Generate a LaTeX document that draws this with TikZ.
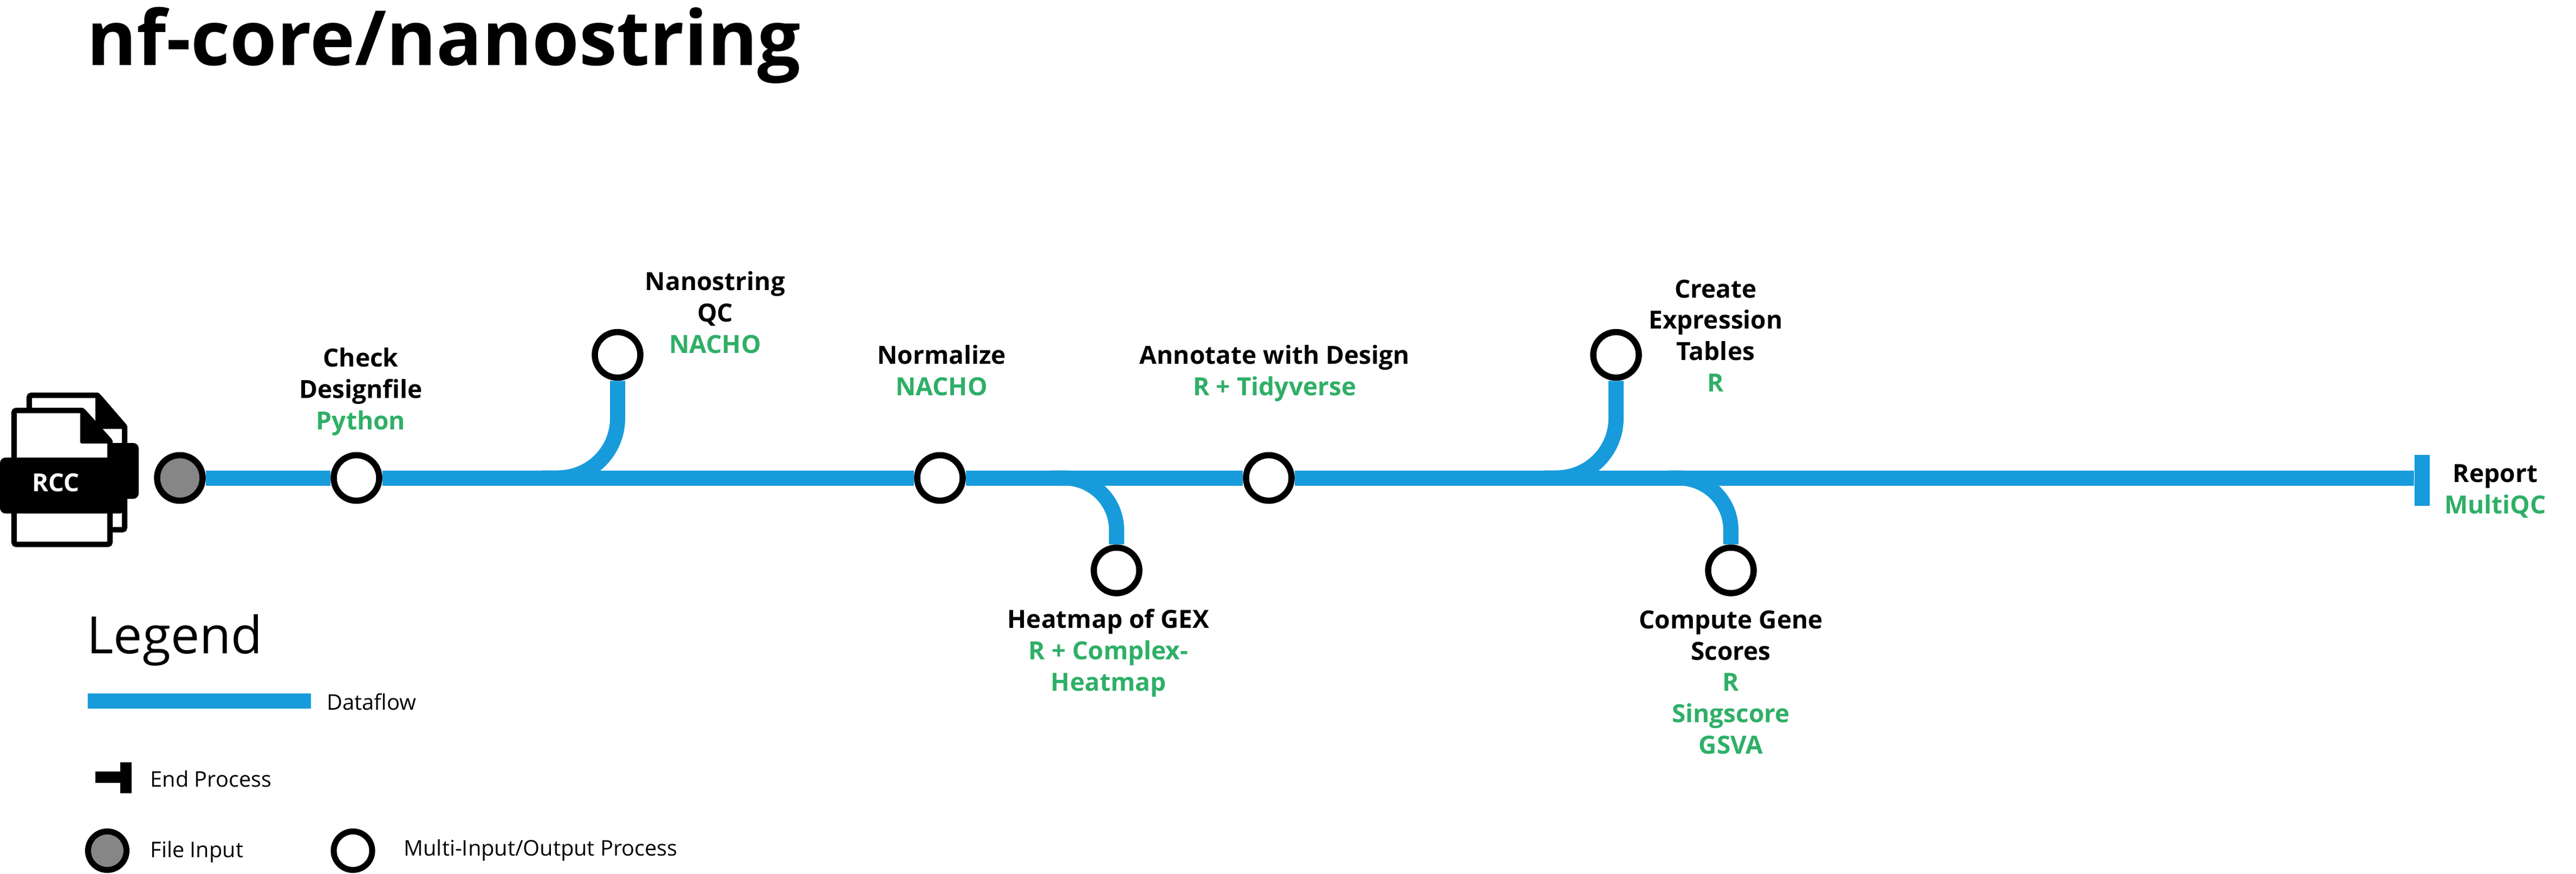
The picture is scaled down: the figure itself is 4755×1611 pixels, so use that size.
\documentclass[tikz,border=0pt]{standalone}
\usepackage{fontspec}
\setmainfont{Open Sans}
\definecolor{flowblue}{HTML}{189BDB}
\definecolor{toolgreen}{HTML}{2FAF67}
\definecolor{inputgray}{HTML}{868686}
\tikzset{
	flow/.style={draw=flowblue, line width=0.28cm},
	station/.style={circle, draw=black, fill=white, line width=0.115cm, minimum size=0.84cm, inner sep=0pt},
	keystation/.style={station, line width=0.11cm, minimum size=0.71cm},
	steplabel/.style={anchor=base, align=center, inner sep=0pt, font=\fontsize{13.1}{16.36}\selectfont\bfseries},
	keylabel/.style={anchor=base west, inner sep=0pt, font=\fontsize{11.3}{13}\selectfont}
}
\newcommand{\toolname}[1]{\textcolor{toolgreen}{#1}}

\begin{document}
\begin{tikzpicture}[x=0.01cm, y=-0.01cm]

	\useasboundingbox (0, 0) rectangle (4755, 1611);

	\def\ymain{881.5} % Hauteur de la ligne principale
	\def\yup{654.5} % Stations du haut
	\def\ylow{1052} % Stations du bas

	% Stations
	\node[station, fill=inputgray] (input) at (332, \ymain) {};
	\foreach \name/\x/\y in {check/658/\ymain, qc/1140/\yup, norm/1735/\ymain, heat/2061/\ylow, annot/2342/\ymain, tables/2983/\yup, scores/3195/\ylow} {
		\node[station] (\name) at (\x, \y) {};
	}
	\node[fill=flowblue, minimum width=0.28cm, minimum height=0.94cm, inner sep=0pt] (stop) at (4471, 886) {};

	% Ligne principale
	\coordinate (stopin) at (stop.west |- input);
	\draw[flow] (input) -- (check) -- (norm) -- (annot) -- (stopin);

	% Branches
	\coordinate (qcend) at (1000, \ymain);
	\coordinate (heatend) at (1940, \ymain);
	\coordinate (tablesend) at (2850, \ymain);
	\coordinate (scoresend) at (3080, \ymain);
	\draw[flow, rounded corners=1.1cm] (qc.south) |- (qcend);
	\draw[flow, rounded corners=0.96cm] (heat.north) |- (heatend);
	\draw[flow, rounded corners=1.1cm] (tables.south) |- (tablesend);
	\draw[flow, rounded corners=0.96cm] (scores.north) |- (scoresend);

	% Fichiers RCC
	\draw[line width=0.1cm, fill=white, rounded corners=0.04cm] (54, 729) -- (180, 729) -- (230, 787) -- (230, 977) -- (54, 977) -- cycle;
	\fill[rounded corners=0.02cm] (176, 724) -- (182, 724) -- (235, 785) -- (235, 791) -- (176, 791) -- cycle;
	\draw[line width=0.1cm, fill=white, rounded corners=0.04cm] (26, 757) -- (152, 757) -- (203, 814) -- (203, 1004) -- (26, 1004) -- cycle;
	\fill[rounded corners=0.03cm] (148, 752) -- (154, 752) -- (208, 812) -- (208, 818) -- (148, 818) -- cycle;
	\fill[rounded corners=0.1cm] (150, 817) rectangle (256, 920);
	\fill[rounded corners=0.1cm] (0, 844) rectangle (231, 947);
	\fill[white] (31, 818) rectangle (198, 844);
	\fill[black] (198, 817) rectangle (240, 844);
	\node[anchor=base, inner sep=0pt, text=white, font=\fontsize{13}{15}\selectfont\bfseries] (rcc) at (103, 906) {RCC};

	% Titre
	\node[anchor=base west, inner sep=0pt, font=\fontsize{39.9}{44}\selectfont\bfseries] (title) at (160, 120) {nf-core/nanostring};

	% Etapes
	\node[steplabel] (checktxt) at (666, 792) {Check\\Designfile\\\toolname{Python}};
	\node[steplabel] (qctxt) at (1320, 651) {Nanostring\\QC\\\toolname{NACHO}};
	\node[steplabel] (normtxt) at (1738, 729) {Normalize\\\toolname{NACHO}};
	\node[steplabel] (heattxt) at (2046, 1274) {Heatmap of GEX\\\toolname{R + Complex-}\\\toolname{Heatmap}};
	\node[steplabel] (annottxt) at (2353, 729) {Annotate with Design\\\toolname{R + Tidyverse}};
	\node[steplabel] (tablestxt) at (3167, 722) {Create\\Expression\\Tables\\\toolname{R}};
	\node[steplabel] (scorestxt) at (3195, 1390) {Compute Gene\\Scores\\\toolname{R}\\\toolname{Singscore}\\\toolname{GSVA}};
	\node[steplabel] (reporttxt) at (4606, 947) {Report\\\toolname{MultiQC}};

	% Legende
	\node[anchor=base west, inner sep=0pt, font=\fontsize{27}{30}\selectfont] (legend) at (160, 1205) {Legend};
	\coordinate (keya) at (162, 1292.5);
	\coordinate (keyb) at (574, 1292.5);
	\draw[flow] (keya) -- (keyb);
	\node[keylabel] (keyflow) at (603, 1309) {Dataflow};
	\fill (176, 1423) rectangle (224, 1444);
	\fill (222, 1406) rectangle (243, 1463);
	\node[keylabel] (keyend) at (277, 1451) {End Process};
	\node[keystation, fill=inputgray] (keyinput) at (198, 1569) {};
	\node[keylabel] (keyinputtxt) at (277, 1581) {File Input};
	\node[keystation] (keymulti) at (651.5, 1569) {};
	\node[keylabel] (keymultitxt) at (745, 1578) {Multi-Input/Output Process};

\end{tikzpicture}
\end{document}
